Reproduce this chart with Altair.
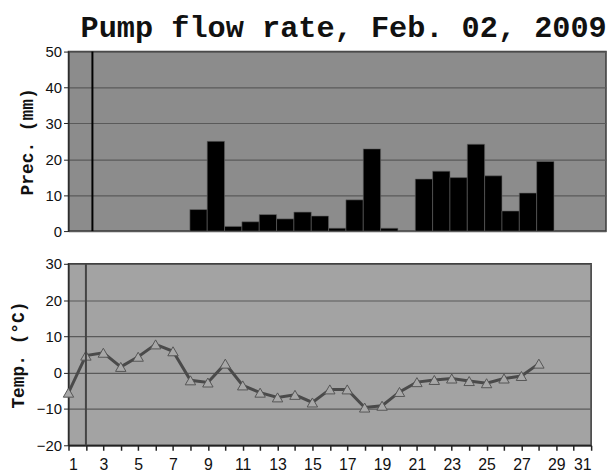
import altair as alt
import pandas as pd

days = list(range(1, 32))
prec_days = [8, 9, 10, 11, 12, 13, 14, 15, 16, 17, 18, 19, 20, 21, 22, 23, 24, 25, 26, 27, 28]
prec_vals = [6.0, 25.0, 1.3, 2.6, 4.6, 3.4, 5.3, 4.2, 0.8, 8.7, 22.9, 0.8, 0.0, 14.5, 16.7, 14.9, 24.2, 15.4, 5.6, 10.6, 19.4]
temp_days = list(range(1, 29))
temp_vals = [-5.5, 4.7, 5.5, 1.6, 4.4, 7.8, 5.9, -2.1, -2.7, 2.5, -3.5, -5.5, -6.8, -6.1,
             -8.2, -4.6, -4.6, -9.6, -9.1, -5.3, -2.6, -2.0, -1.6, -2.3, -2.9, -1.6, -0.9, 2.5]
marker_day = [2]

prec_df = pd.DataFrame({"day": prec_days, "prec": prec_vals})
temp_df = pd.DataFrame({"day": temp_days, "temp": temp_vals})
mark_df = pd.DataFrame({"day": marker_day})

lab_font = "Liberation Sans"
mono = "Liberation Mono"

yaxis_common = dict(
    labelFont=lab_font, labelFontSize=15, labelColor="#111",
    titleFont=mono, titleFontSize=18, titleFontWeight="bold", titleColor="#111",
    tickColor="#222", tickSize=5, domainColor="#222",
    gridColor="#5a5a5a", gridWidth=1.2, labelPadding=2, titlePadding=9,
)

xband = alt.X("day:O", scale=alt.Scale(domain=days, paddingInner=0, paddingOuter=0), axis=None, bandPosition=0.38)

bars = alt.Chart(prec_df).mark_bar(color="black", stroke="#666", strokeWidth=0.6).encode(
    x=alt.X("day:O", scale=alt.Scale(domain=days, paddingInner=0, paddingOuter=0), axis=None),
    y=alt.Y("prec:Q", scale=alt.Scale(domain=[0, 50], nice=False),
            axis=alt.Axis(title="Prec. (mm)", values=[0, 10, 20, 30, 40, 50], **yaxis_common)),
)
rule_top = alt.Chart(mark_df).mark_rule(color="black", strokeWidth=2).encode(x=xband)
top = alt.layer(bars, rule_top).properties(
    width=542, height=181,
    view=alt.ViewBackground(fill="#8c8c8c", stroke="#3a3a3a", strokeWidth=1.5),
)

xq = alt.X("day:Q", scale=alt.Scale(domain=[1, 31], nice=False),
           axis=alt.Axis(title=None, values=days, labelExpr="datum.value % 2 == 1 ? datum.label : ''",
                         labelOverlap=False, labelFont=lab_font, labelFontSize=16, labelColor="#111",
                         tickColor="#222", tickSize=5, tickWidth=1.5, domainColor="#222", domainWidth=1.5,
                         grid=False, labelPadding=6))
ty = alt.Y("temp:Q", scale=alt.Scale(domain=[-20, 30], nice=False),
           axis=alt.Axis(title="Temp. (°C)", values=[-20, -10, 0, 10, 20, 30], **yaxis_common))
line = alt.Chart(temp_df).mark_line(color="#4a4a4a", strokeWidth=3).encode(x=xq, y=ty)
pts = alt.Chart(temp_df).mark_point(shape="triangle-up", filled=True, fill="#a8a8a8", stroke="#555",
                                     strokeWidth=1, size=110, opacity=1).encode(x=xq, y=ty)
rule_bot = alt.Chart(mark_df).mark_rule(color="#444", strokeWidth=2).encode(x=xq)
bottom = alt.layer(line, pts, rule_bot).properties(
    width=527, height=183,
    view=alt.ViewBackground(fill="#a3a3a3", stroke="#3a3a3a", strokeWidth=1.5),
)

chart = alt.vconcat(top, bottom, spacing=16).properties(
    padding={"top": 3, "left": 0, "right": 0, "bottom": 0},
    title=alt.TitleParams("Pump flow rate, Feb. 02, 2009", font=mono, fontSize=30.5, fontWeight="bold",
                          color="#111", anchor="end", offset=0),
).configure_axis(gridOpacity=1)

chart.save("out.html", embed_options={"renderer": "svg", "actions": False})
